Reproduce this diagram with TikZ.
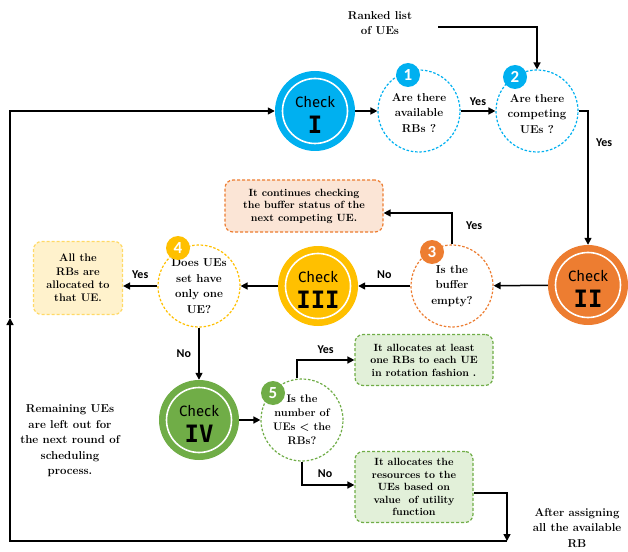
\documentclass[tikz,border=0pt]{standalone}
\usepackage{fontspec}
\newfontfamily\chkfont{Fira Sans}
\newfontfamily\numfont{DejaVu Sans Mono}
\newfontfamily\lblfont{Carlito}
\usetikzlibrary{arrows.meta}
\definecolor{cblue}{RGB}{0,176,240}
\definecolor{corange}{RGB}{237,125,49}
\definecolor{cgold}{RGB}{255,192,0}
\definecolor{cgreen}{RGB}{112,173,71}
\definecolor{forange}{RGB}{251,229,214}
\definecolor{fyellow}{RGB}{255,242,204}
\definecolor{dyellow}{RGB}{255,217,102}
\definecolor{fgreen}{RGB}{226,240,217}
\tikzset{
  checknode/.style={circle, fill=#1, minimum size=80bp, inner sep=0pt},
  checktxt/.style={align=center, inner sep=0pt, font=\fontsize{15}{26.5}\selectfont},
  qnode/.style={circle, draw=#1, dash pattern=on 2.5bp off 1.8bp, line width=1.2bp, minimum size=82bp, inner sep=0pt, align=center, fill=white, font=\bfseries\fontsize{11.5}{15.5}\selectfont},
  badge/.style={circle, fill=#1, minimum size=24bp, inner sep=0pt, text=white, font=\lblfont\bfseries\fontsize{17}{17}\selectfont},
  infobox/.style={draw=#1, dash pattern=on 3bp off 2bp, rounded corners=8bp, line width=1.2bp, align=center, inner sep=0pt},
  arr/.style={-{Triangle[length=7bp,width=7bp]}, line width=1.5bp},
  lbl/.style={font=\lblfont\bfseries\fontsize{12}{12}\selectfont},
  txt/.style={align=center, font=\bfseries\fontsize{11.5}{15.5}\selectfont},
  boxtxt/.style={font=\bfseries\fontsize{10.5}{12.6}\selectfont}
}
\newcommand{\checktext}[1]{{\chkfont Check}\\{\numfont\bfseries\fontsize{24}{26.5}\selectfont #1}}
\begin{document}
\begin{tikzpicture}[x=1bp,y=-1bp]
\useasboundingbox (0,0) rectangle (628,552);
% check nodes
\node[checknode=cblue] (c1) at (315,111) {};
\node[checknode=corange] (c2) at (588,285) {};
\node[checknode=cgold] (c3) at (318,286) {};
\node[checknode=cgreen] (c4) at (199,420) {};
\foreach \n in {c1,c2,c3,c4} \draw[white, line width=1.6bp] (\n.center) circle (32.5bp);
\node[checktxt] (t1) at ([yshift=-4bp]c1.center) {\checktext{I}};
\node[checktxt] (t2) at ([yshift=-4bp]c2.center) {\checktext{II}};
\node[checktxt] (t3) at ([yshift=-4bp]c3.center) {\checktext{III}};
\node[checktxt] (t4) at ([yshift=-4bp]c4.center) {\checktext{IV}};
% question nodes
\node[qnode=cblue] (q1) at (419,111) {\\[-4bp]Are there\\available\\RBs ?};
\node[qnode=cblue] (q2) at (537,111) {\\[-2bp]Are there\\competing\\UEs ?};
\node[qnode=corange] (q3) at (452,286) {Is the\\buffer\\empty?};
\node[qnode=cgold] (q4) at (199,286) {Does UEs\\set have\\only one\\UE?};
\node[qnode=cgreen, font=\bfseries\fontsize{11}{14}\selectfont] (q5) at (302,420) {Is the\\number of\\UEs < the\\RBs?};
% badges
\node[badge=cblue] (b1) at (408,75) {1};
\node[badge=cblue] (b2) at (515,77) {2};
\node[badge=corange] (b3) at (432,252) {3};
\node[badge=cgold] (b4) at (178,248) {4};
\node[badge=cgreen] (b5) at (273,393) {5};
% boxes
\node[infobox=corange, fill=forange, minimum width=158bp, minimum height=52bp, boxtxt] (cont) at (304,206) {It continues checking\\the buffer status of the\\next competing UE.};
\node[infobox=dyellow, fill=fyellow, minimum width=89bp, minimum height=73bp, font=\bfseries\fontsize{11}{13.5}\selectfont] (allb) at (78,278) {All the\\RBs are\\allocated to\\that UE.};
\node[infobox=cgreen, fill=fgreen, minimum width=138bp, minimum height=51bp, boxtxt] (rot) at (424,360) {It allocates at least\\one RBs to each UE\\in rotation fashion .};
\node[infobox=cgreen, fill=fgreen, minimum width=118bp, minimum height=71bp, boxtxt] (util) at (414,487) {It allocates the\\resources to the\\UEs based on\\value\ \ of utility\\function};
% plain texts
\node[txt] (rank) at (380,23) {Ranked list\\of UEs};
\node[txt] (remain) at (70,441) {Remaining UEs\\are left out for\\the next round of\\scheduling\\process.};
\node[txt] (after) at (577,528) {After assigning\\all the available\\RB};
% coordinates
\coordinate (rk) at (438,27);
\coordinate (bend) at (507,541);
\coordinate (bl) at (10,541);
\coordinate (midl) at (10,318);
% connectors
\draw[arr] (c1) -- (q1);
\draw[arr] (q1) -- node[lbl, above=1bp] (y1) {Yes} (q2);
\draw[arr] (rk) -| (q2.north);
\draw[arr] (q2.east) -| node[lbl, pos=0.62, right=4bp] (y2) {Yes} (c2.north);
\draw[arr] (c2) -- (q3);
\draw[arr] (q3.north) |- node[lbl, pos=0.3, right=10bp] (y3) {Yes} ([yshift=-7bp]cont.east);
\draw[arr] (q3) -- node[lbl, above=3bp] (n1) {No} (c3);
\draw[arr] (c3) -- (q4);
\draw[arr] (q4.west) -- node[lbl, above=3bp] (y4) {Yes} (q4.west -| allb.east);
\draw[arr] (q4) -- node[lbl, left=4bp] (n2) {No} (c4);
\draw[arr] (c4) -- (q5);
\draw[arr] ([xshift=-5bp]q5.north) |- node[lbl, pos=0.75, above=2bp] (y5) {Yes} (rot.west);
\draw[arr] (q5.south) |- node[lbl, pos=0.72, above=3bp] (n3) {No} ([yshift=2bp]util.west);
\draw[arr] ([yshift=-6bp]util.east) -| (bend);
\draw[arr] (bend) -- (bl) -- (midl);
\draw[arr] (midl) -- (midl |- c1) -- (c1.west);
\end{tikzpicture}
\end{document}
